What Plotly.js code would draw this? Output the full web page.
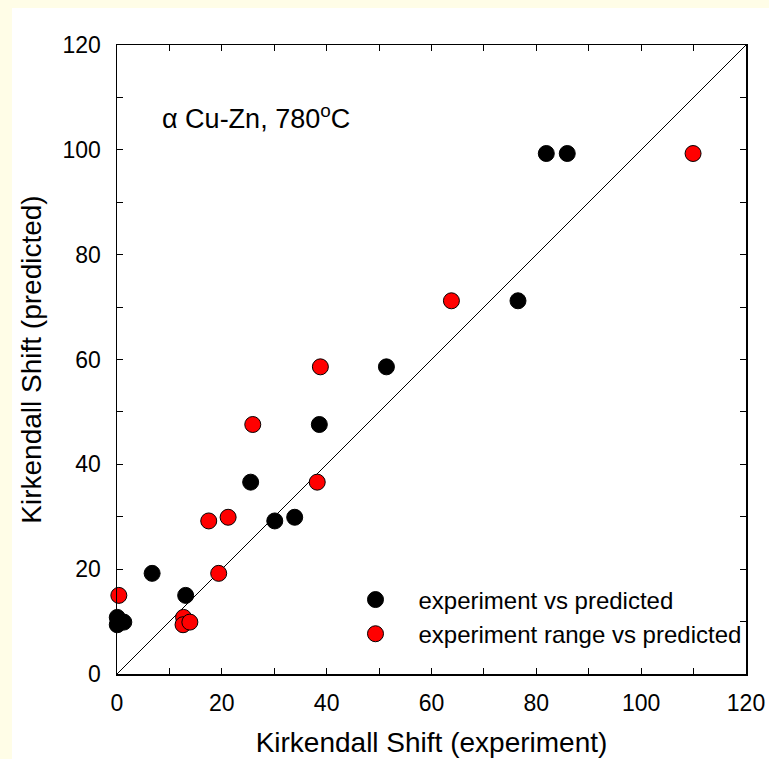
<!DOCTYPE html>
<html>
<head>
<meta charset="utf-8">
<script src="https://cdn.plot.ly/plotly-3.0.1.min.js"></script>
<style>
  html, body { margin: 0; padding: 0; background: #FFFDE7; width: 769px; height: 759px; overflow: hidden; }
  #chart { position: absolute; left: 12px; top: 8px; width: 757px; height: 751px; background: #ffffff; }
</style>
</head>
<body>
<div id="chart"></div>
<script>
// Kirkendall shift: measured vs model prediction, alpha Cu-Zn at 780 C
const expShift      = [0.05, 0.05, 1.3, 6.7, 13.1, 25.5, 30.1, 33.9, 38.6, 51.4, 76.5, 81.9, 85.9];
const expPredicted  = [10.8, 9.4, 9.9, 19.2, 15.0, 36.6, 29.2, 29.9, 47.6, 58.6, 71.2, 99.3, 99.3];

const rangeShift     = [0.35, 12.7, 12.6, 13.9, 19.4, 17.5, 21.2, 38.2, 25.9, 38.8, 63.8, 109.9];
const rangePredicted = [15.0, 10.8, 9.4, 9.9, 19.2, 29.2, 29.9, 36.6, 47.6, 58.6, 71.2, 99.3];

const parity = [0, 120];

const axisFont = { family: 'Liberation Sans, Arial, sans-serif', size: 23, color: '#000' };
const titleFont = { family: 'Liberation Sans, Arial, sans-serif', size: 28, color: '#000' };

const traces = [
  {
    x: parity, y: parity, mode: 'lines', showlegend: false, hoverinfo: 'skip',
    line: { color: '#000', width: 1 }
  },
  {
    x: expShift, y: expPredicted, mode: 'markers', name: 'experiment vs predicted',
    cliponaxis: false,
    marker: { size: 16, color: '#000', line: { color: '#000', width: 1 } }
  },
  {
    x: rangeShift, y: rangePredicted, mode: 'markers', name: 'experiment range vs predicted',
    cliponaxis: false,
    marker: { size: 16, color: '#FF0000', line: { color: '#000', width: 1 } }
  }
];

function axis(titleText, standoff, labelGap) {
  return {
    range: [0, 120], dtick: 20, tick0: 0,
    showgrid: false, zeroline: false,
    showline: true, linecolor: '#000', linewidth: 1.5, mirror: 'ticks',
    ticks: 'inside', ticklen: 6, tickwidth: 1, tickcolor: '#000',
    minor: { dtick: 10, ticks: 'inside', ticklen: 6, tickwidth: 1, tickcolor: '#000', showgrid: false },
    tickfont: axisFont,
    ticklabelstandoff: labelGap,
    title: { text: titleText, font: titleFont, standoff: standoff }
  };
}

const layout = {
  width: 757, height: 751,
  margin: { l: 105, r: 23, t: 37, b: 85 },
  paper_bgcolor: '#ffffff', plot_bgcolor: '#ffffff',
  xaxis: axis('Kirkendall Shift (experiment)', 17, 8),
  yaxis: axis('Kirkendall Shift (predicted)', 12, 10),
  showlegend: true,
  legend: {
    x: 0.3426, xanchor: 'left', y: 0.0907, yanchor: 'middle',
    bgcolor: 'rgba(0,0,0,0)', borderwidth: 0,
    itemwidth: 76,
    font: { family: 'Liberation Sans, Arial, sans-serif', size: 24, color: '#000' }
  },
  annotations: [{
    xref: 'paper', yref: 'paper', x: 0.0676, y: 0.885, xanchor: 'left', yanchor: 'middle',
    showarrow: false,
    text: 'α Cu-Zn, 780<sup>o</sup>C',
    font: { family: 'Liberation Sans, Arial, sans-serif', size: 27, color: '#000' }
  }]
};

Plotly.newPlot('chart', traces, layout, { displayModeBar: false, staticPlot: true });
</script>
</body>
</html>
